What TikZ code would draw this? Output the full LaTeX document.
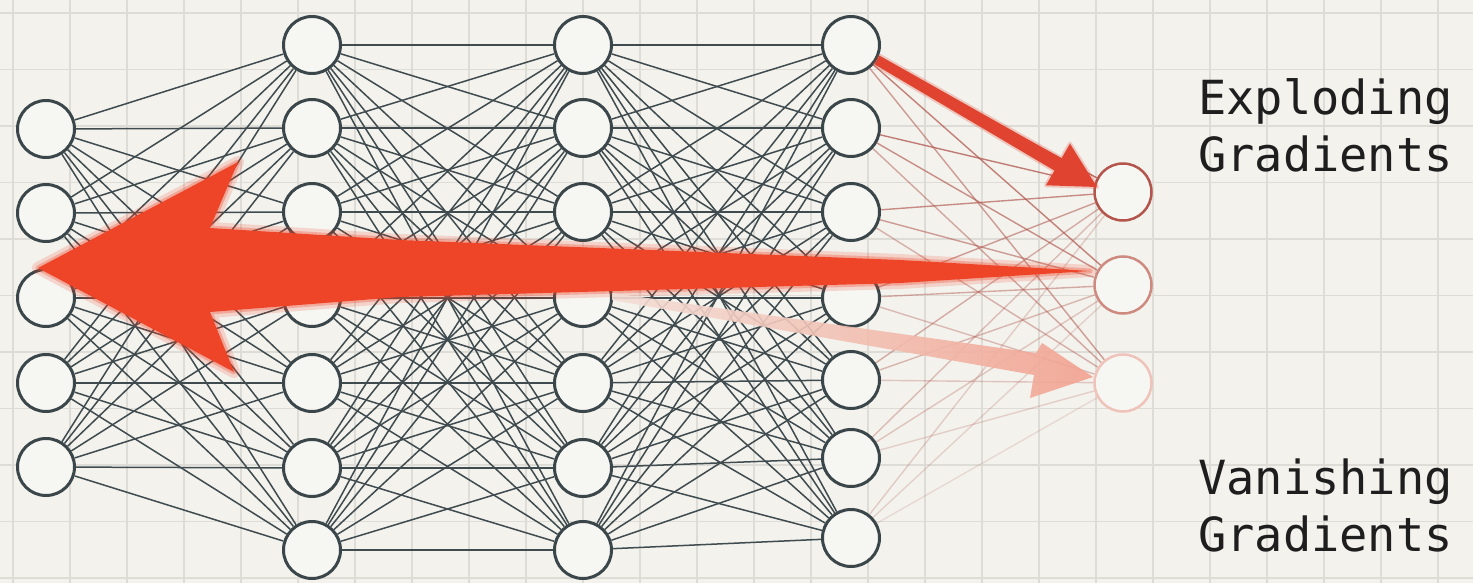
\documentclass[tikz,border=0pt]{standalone}
\usepackage{fontspec}
\newfontfamily\labelfont{DejaVu Sans Mono}
\pgfdeclarelayer{bg}
\pgfdeclarelayer{edges}
\pgfsetlayers{bg,edges,main}
\definecolor{bgcol}{HTML}{F3F2ED}
\definecolor{gridcol}{HTML}{DDDCD6}
\definecolor{nodecol}{HTML}{3A4649}
\definecolor{nodefill}{HTML}{F6F6F3}
\definecolor{edgecol}{HTML}{3F4B4F}
\definecolor{bigred}{HTML}{EE4428}
\definecolor{explred}{HTML}{E0432F}
\definecolor{salmon}{HTML}{F2A290}
\definecolor{outedge}{HTML}{B0554C}
\definecolor{outA}{HTML}{B4554C}
\definecolor{outB}{HTML}{CF8A80}
\definecolor{outC}{HTML}{EFC3BA}
\definecolor{txtcol}{HTML}{1E1E1E}
\begin{document}
\begin{tikzpicture}[x=1pt,y=-1pt,
  neuron/.style={circle, draw=nodecol, line width=3pt, fill=nodefill, minimum size=57pt, inner sep=0pt},
  outneuron/.style={circle, line width=2.5pt, fill=nodefill, minimum size=57pt, inner sep=0pt},
  edge/.style={draw=edgecol, line width=1.5pt},
  redge/.style={draw=outedge, line width=1.4pt},
  label/.style={font=\labelfont\fontsize{47}{57}\selectfont, text=txtcol, align=left, inner sep=0pt, anchor=north west}]
\useasboundingbox (0,0) rectangle (1473,583);
\begin{pgfonlayer}{bg}
  \fill[bgcol] (0,0) rectangle (1473,583);
  \foreach \k in {0,...,25} \draw[gridcol, line width=1.4pt] ({13+57*\k},0) -- ({13+57*\k},583);
  \foreach \k in {0,...,10} \draw[gridcol, line width=1.4pt] (0,{13+56.5*\k}) -- (1473,{13+56.5*\k});
\end{pgfonlayer}

% neurons
\foreach \i/\y in {1/129,2/213,3/298,4/383,5/467} \node[neuron] (a\i) at (46,\y) {};
\foreach \i/\y in {1/45,2/128,3/212,4/298,5/383,6/468,7/550} \node[neuron] (b\i) at (312,\y) {};
\foreach \i/\y in {1/45,2/128,3/212,4/298,5/383,6/468,7/550} \node[neuron] (c\i) at (583,\y) {};
\foreach \i/\y in {1/45,2/128,3/212,4/298,5/380,6/458,7/538} \node[neuron] (d\i) at (851,\y) {};
\node[outneuron, draw=outA] (o1) at (1123,192) {};
\node[outneuron, draw=outB] (o2) at (1123,285) {};
\node[outneuron, draw=outC] (o3) at (1123,383) {};

% connections
\begin{pgfonlayer}{edges}
  \foreach \i in {1,...,5} \foreach \j in {1,...,7} \draw[edge] (a\i) -- (b\j);
  \foreach \i in {1,...,7} \foreach \j in {1,...,7} \draw[edge] (b\i) -- (c\j);
  \foreach \i in {1,...,7} \foreach \j in {1,...,7} \draw[edge] (c\i) -- (d\j);
  \foreach \i/\op in {1/0.85,2/0.75,3/0.65,4/0.55,5/0.45,6/0.35,7/0.25}
    \foreach \j/\f in {1/1,2/0.85,3/0.65}
      \draw[redge, draw opacity={\op*\f}] (d\i) -- (o\j);
\end{pgfonlayer}

% big backward arrow
\path[draw=bigred, draw opacity=0.18, line width=12pt, line join=round]
  (38,268) -- (238,162) -- (210,228) -- (400,240) -- (900,260) -- (1090,271)
  -- (900,283) -- (400,297) -- (210,312) -- (234,372) -- cycle;
\path[draw=bigred, draw opacity=0.3, line width=5pt, line join=round]
  (38,268) -- (238,162) -- (210,228) -- (400,240) -- (900,260) -- (1090,271)
  -- (900,283) -- (400,297) -- (210,312) -- (234,372) -- cycle;
\fill[bigred]
  (38,268) -- (238,162) -- (210,228) -- (400,240) -- (900,260) -- (1090,271)
  -- (900,283) -- (400,297) -- (210,312) -- (234,372) -- cycle;

% exploding arrow
\path[draw=explred, draw opacity=0.25, line width=4pt, line join=round]
  (879.5,55.7) -- (1061.5,158.4) -- (1070,143.7) -- (1097,187) -- (1046,185.3) -- (1054.5,170.6) -- (874.5,64.3) -- cycle;
\fill[explred]
  (879.5,55.7) -- (1061.5,158.4) -- (1070,143.7) -- (1097,187) -- (1046,185.3) -- (1054.5,170.6) -- (874.5,64.3) -- cycle;

% vanishing arrow
\shade[left color=salmon!25!bgcol, right color=salmon, opacity=0.9]
  (612,293) -- (1036,353) -- (1042,343) -- (1093,377) -- (1030,398) -- (1034,375) -- (612,300) -- cycle;

% labels
\node[label] (exp) at (1198,78) {Exploding\\Gradients};
\node[label] (van) at (1198,459) {Vanishing\\Gradients};
\end{tikzpicture}
\end{document}
